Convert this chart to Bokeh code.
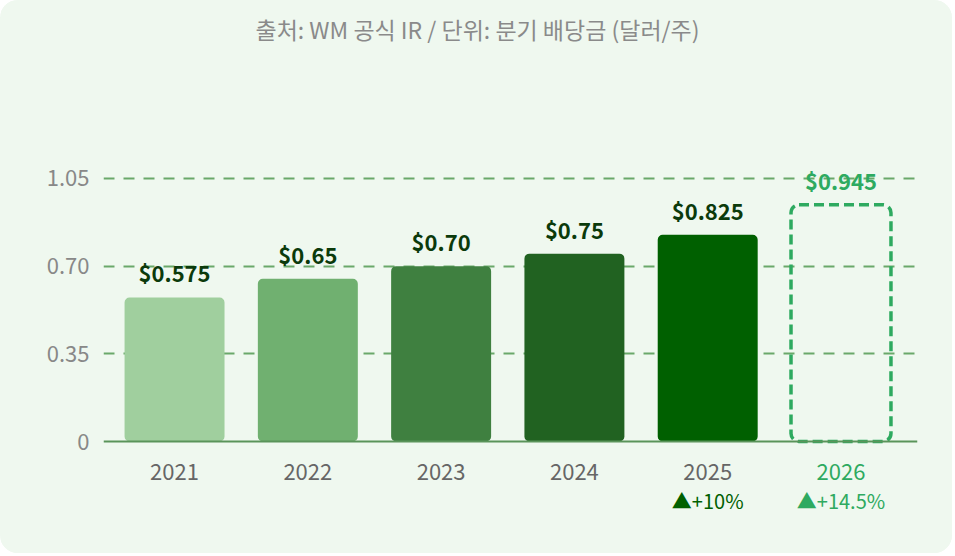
from bokeh.plotting import figure
from bokeh.models import (ColumnDataSource, Range1d, FixedTicker,
                          LabelSet, Label, Span)
from bokeh.core.properties import value
from bokeh.embed import file_html
from bokeh.resources import INLINE

years = ["2021", "2022", "2023", "2024", "2025", "2026"]
dividends = [0.575, 0.65, 0.70, 0.75, 0.825, 0.945]
value_labels = ["$0.575", "$0.65", "$0.70", "$0.75", "$0.825", "$0.945"]
y_ticks = [0, 0.35, 0.70, 1.05]
y_tick_labels = ["0", "0.35", "0.70", "1.05"]
growth_years = ["2025", "2026"]
growth_labels = ["▲+10%", "▲+14.5%"]
title_text = "출처: WM 공식 IR / 단위: 분기 배당금 (달러/주)"

bar_colors = ["#a0cf9e", "#70b070", "#3f8040", "#216221", "#006000"]
forecast_color = "#2eaa60"
label_dark = "#0b3a0b"
grid_color = "#6aa86a"
bg = "#eff8ef"
FONT = "Noto Sans CJK KR"

# category index positions on a numeric axis
xpos = list(range(len(years)))
gpos = [years.index(y) for y in growth_years]

W, H = 952, 553
p = figure(width=W, height=H, output_backend="svg", toolbar_location=None,
           x_range=Range1d(-0.533, 5.574),
           y_range=Range1d(-0.4471, 1.7605),
           min_border_left=103, min_border_right=35,
           min_border_top=0, min_border_bottom=0,
           background_fill_color=bg, border_fill_color=bg,
           outline_line_color=None,
           styles={"border-radius": "18px", "overflow": "hidden",
                   "background-color": bg})

# gridlines (dashed) at tick values above zero
p.xgrid.grid_line_color = None
p.ygrid.ticker = FixedTicker(ticks=y_ticks[1:])
p.ygrid.grid_line_color = grid_color
p.ygrid.grid_line_width = 2
p.ygrid.grid_line_dash = "11 9"

# actual bars (2021-2025)
actual = ColumnDataSource(dict(x=xpos[:5], top=dividends[:5], color=bar_colors))
p.vbar(x="x", top="top", bottom=0, width=0.75, source=actual,
       fill_color="color", line_color=None, border_radius=5)

# forecast bar (2026) dashed outline
fc = ColumnDataSource(dict(x=xpos[5:], top=dividends[5:]))
p.vbar(x="x", top="top", bottom=0, width=0.75, source=fc,
       fill_color=None, line_color=forecast_color, line_width=3.5,
       line_dash="10 5", border_radius=8)

# baseline
p.add_layout(Span(location=0, dimension="width", line_color="#5a945a",
                  line_width=2))

p.xaxis.visible = False
p.yaxis.ticker = FixedTicker(ticks=y_ticks)
p.yaxis.major_label_overrides = dict(zip(y_ticks, y_tick_labels))
p.yaxis.axis_line_color = None
p.yaxis.major_tick_line_color = None
p.yaxis.minor_tick_line_color = None
p.yaxis.major_label_standoff = 8
p.yaxis.major_label_text_font = FONT
p.yaxis.major_label_text_font_size = "22px"
p.yaxis.major_label_text_color = "#888888"

# x labels (last one green)
xl = ColumnDataSource(dict(x=xpos, y=[0] * 6, text=years,
                           color=["#666666"] * 5 + [forecast_color]))
p.add_layout(LabelSet(x="x", y="y", text="text", source=xl, y_offset=-30,
                      text_align="center", text_baseline="middle",
                      text_color="color", text_font=value(FONT),
                      text_font_size="22px"))

# growth labels
gl = ColumnDataSource(dict(x=gpos, y=[0, 0], text=growth_labels,
                           color=["#006000", forecast_color]))
p.add_layout(LabelSet(x="x", y="y", text="text", source=gl, y_offset=-59,
                      text_align="center", text_baseline="middle",
                      text_color="color", text_font=value(FONT),
                      text_font_size="20px"))

# value labels
vl = ColumnDataSource(dict(x=xpos, y=dividends, text=value_labels,
                           color=[label_dark] * 5 + [forecast_color]))
p.add_layout(LabelSet(x="x", y="y", text="text", source=vl, y_offset=25,
                      text_align="center", text_baseline="middle",
                      text_color="color", text_font=value(FONT),
                      text_font_size="22px", text_font_style="bold"))

# title text
p.add_layout(Label(x=2.273, y=1.6487, text=title_text, text_align="center",
                   text_baseline="middle", text_font=FONT,
                   text_font_size="23px", text_color="#8a8a8a"))

open("out.html", "w").write(file_html(p, INLINE))
